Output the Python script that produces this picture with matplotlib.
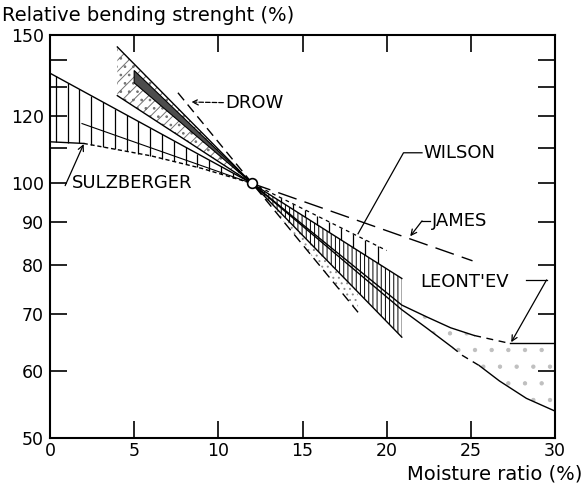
import numpy as np
import matplotlib
matplotlib.use('Agg')
import matplotlib.pyplot as plt
from matplotlib.ticker import FixedLocator, FixedFormatter, NullLocator

plt.rcParams['font.family'] = ['DejaVu Sans']
plt.rcParams['hatch.linewidth'] = 0.7

# ---------------- data ----------------
x_ticks = [0, 5, 10, 15, 20, 25, 30]
x_tick_labels = ['0', '5', '10', '15', '20', '25', '30']
y_ticks = [50, 60, 70, 80, 90, 100, 110, 120, 130, 140, 150]
y_tick_labels = ['50', '60', '70', '80', '90', '100', '', '120', '', '', '150']

ref_x, ref_y = 12, 100

sulz_upper_x = [0, 12]
sulz_upper_y = [135, 100]
sulz_mid_x = [1.9, 12]
sulz_mid_y = [117.7, 100]
sulz_lower_x = [0, 2, 6, 9, 12]
sulz_lower_y = [112, 111.5, 107.8, 104.2, 100]

drow_upper_x = [4, 12]
drow_upper_y = [145, 100]
drow_lower_x = [4, 12]
drow_lower_y = [127, 100]
drow_band_x = [5, 12]
drow_band_top = [136, 100]
drow_band_bot = [131.5, 100]
drow_dash_x = [7.6, 18.3]
drow_dash_y = [128, 70.4]

wilson_x = [12, 20.9]
wilson_upper = [100, 77.2]
wilson_lower = [100, 65.8]
band_x = [12, 20]
band_top = [100, 83.3]

james_x = [12, 25.1]
james_y = [100, 81]

leont_up_x = [12, 20.9, 22.4, 23.8, 25.2, 27.3, 30]
leont_up_y = [100, 71.8, 69.5, 67.5, 66.1, 64.7, 64.7]
leont_lo_x = [12, 20.9, 22.4, 23.9, 24.5, 25.5, 26.7, 28.3, 30]
leont_lo_y = [100, 70.9, 67.4, 64.0, 62.6, 60.9, 58.4, 55.7, 53.8]


def logi(x, xs, ys):
    return np.exp(np.interp(x, xs, np.log(ys)))


fig = plt.figure(figsize=(5.84, 4.93), dpi=100)
ax = fig.add_axes([50 / 584, 1 - 438 / 493, 505 / 584, (438 - 34.5) / 493])
ax.set_yscale('log')
ax.set_xlim(0, 30)
ax.set_ylim(50, 150)

lw = 1.0
k = 'black'

# ---- Sulzberger ----
ax.plot(sulz_upper_x, sulz_upper_y, color=k, lw=lw)
ax.plot(sulz_mid_x, sulz_mid_y, color=k, lw=0.8)
ax.plot(sulz_lower_x[:2], sulz_lower_y[:2], color=k, lw=lw)
ax.plot(sulz_lower_x[1:], sulz_lower_y[1:], color=k, lw=lw, ls=(0, (3, 2)))
xs = np.arange(0.35, 11.2, 0.7)
ax.vlines(xs, logi(xs, sulz_lower_x, sulz_lower_y), logi(xs, sulz_upper_x, sulz_upper_y),
          color=k, lw=0.9)

# ---- Drow ----
ax.fill(drow_upper_x + drow_lower_x[::-1], drow_upper_y + drow_lower_y[::-1],
        facecolor='none', edgecolor='0.45', hatch='///..', lw=0)
ax.plot(drow_upper_x, drow_upper_y, color=k, lw=lw)
ax.plot(drow_lower_x, drow_lower_y, color=k, lw=lw)
ax.fill(drow_band_x + drow_band_x[::-1], drow_band_top + drow_band_bot[::-1],
        facecolor='0.3', edgecolor=k, lw=0.8)
ax.plot(drow_dash_x, drow_dash_y, color=k, lw=lw, ls=(0, (7, 4)))

# stipple between Drow dashed line and Wilson lower edge
sx = np.linspace(12, 18.3, 30)
ax.fill_between(sx, logi(sx, drow_dash_x, drow_dash_y), logi(sx, wilson_x, wilson_lower),
                facecolor='none', edgecolor='0.55', hatch='...', lw=0)

# ---- Wilson ----
ax.fill(wilson_x + wilson_x[::-1], wilson_upper + wilson_lower[::-1],
        facecolor='none', edgecolor=k, hatch='||||', lw=0)
ax.plot(wilson_x, wilson_upper, color=k, lw=lw)
ax.plot(wilson_x, wilson_lower, color=k, lw=lw)
bx = np.arange(13.7, 20.05, 0.72)
ax.vlines(bx, logi(bx, wilson_x, wilson_upper), logi(bx, band_x, band_top), color=k, lw=0.9)
ax.plot(band_x, band_top, color=k, lw=0.9, ls=(0, (3, 3)))

# ---- James ----
ax.plot(james_x, james_y, color=k, lw=lw, ls=(0, (14, 6)))

# ---- Leont'ev ----
gx = np.linspace(20.9, 30, 60)
ax.fill_between(gx, logi(gx, leont_lo_x, leont_lo_y), logi(gx, leont_up_x, leont_up_y),
                facecolor='none', edgecolor='0.75', hatch='.', lw=0)
ax.plot(leont_up_x[:5], leont_up_y[:5], color=k, lw=lw)
ax.plot(leont_up_x[4:6], leont_up_y[4:6], color=k, lw=lw, ls=(0, (5, 4)))
ax.plot(leont_up_x[5:], leont_up_y[5:], color=k, lw=lw)
ax.plot(leont_lo_x[:4], leont_lo_y[:4], color=k, lw=lw)
ax.plot(leont_lo_x[3:6], leont_lo_y[3:6], color=k, lw=lw, ls=(0, (5, 4)))
ax.plot(leont_lo_x[5:], leont_lo_y[5:], color=k, lw=lw)

# reference point
ax.plot(ref_x, ref_y, 'o', mfc='white', mec=k, ms=7, mew=1.2, zorder=6)

# ---- labels ----
fs = 13
ax.text(1.3, 100, 'SULZBERGER', fontsize=fs, va='center', ha='left')
ax.annotate('', xy=(2.0, 111.3), xytext=(0.9, 99.4),
            arrowprops=dict(arrowstyle='->', lw=0.9, color=k, shrinkA=0, shrinkB=0))

ax.text(10.4, 124.5, 'DROW', fontsize=fs, va='center', ha='left')
ax.annotate('', xy=(8.4, 124.8), xytext=(10.3, 124.6),
            arrowprops=dict(arrowstyle='->', lw=0.9, color=k, ls='--', shrinkA=0, shrinkB=0))

ax.text(22.2, 108.7, 'WILSON', fontsize=fs, va='center', ha='left')
ax.plot([22.1, 21.0, 18.3], [108.7, 108.7, 87.2], color=k, lw=0.9)

ax.text(22.7, 90.3, 'JAMES', fontsize=fs, va='center', ha='left')
ax.plot([22.6, 22.1], [90.3, 90.3], color=k, lw=0.9)
ax.annotate('', xy=(21.4, 86.6), xytext=(22.1, 90.3),
            arrowprops=dict(arrowstyle='->', lw=0.9, color=k, shrinkA=0, shrinkB=0))

ax.text(22.0, 76.5, "LEONT'EV", fontsize=fs, va='center', ha='left')
ax.plot([28.3, 29.5], [76.9, 76.9], color=k, lw=0.9)
ax.annotate('', xy=(27.4, 64.9), xytext=(29.5, 76.9),
            arrowprops=dict(arrowstyle='->', lw=0.9, color=k, shrinkA=0, shrinkB=0))

# ---- axes styling ----
ax.xaxis.set_major_locator(FixedLocator(x_ticks))
ax.xaxis.set_major_formatter(FixedFormatter(x_tick_labels))
ax.yaxis.set_major_locator(FixedLocator(y_ticks))
ax.yaxis.set_major_formatter(FixedFormatter(y_tick_labels))
ax.yaxis.set_minor_locator(NullLocator())
ax.xaxis.set_minor_locator(NullLocator())
ax.tick_params(direction='in', length=12, width=1.2, top=True, right=True,
               labelsize=12.5, pad=4.5, colors=k)
ax.tick_params(axis='x', pad=3)
for s in ax.spines.values():
    s.set_linewidth(1.5)

fig.text(2 / 584, 1 - 21 / 493, 'Relative bending strenght (%)', fontsize=14,
         ha='left', va='baseline')
fig.text(582 / 584, 1 - 479 / 493, 'Moisture ratio (%)', fontsize=14,
         ha='right', va='baseline')

fig.savefig('out.png', dpi=100)
